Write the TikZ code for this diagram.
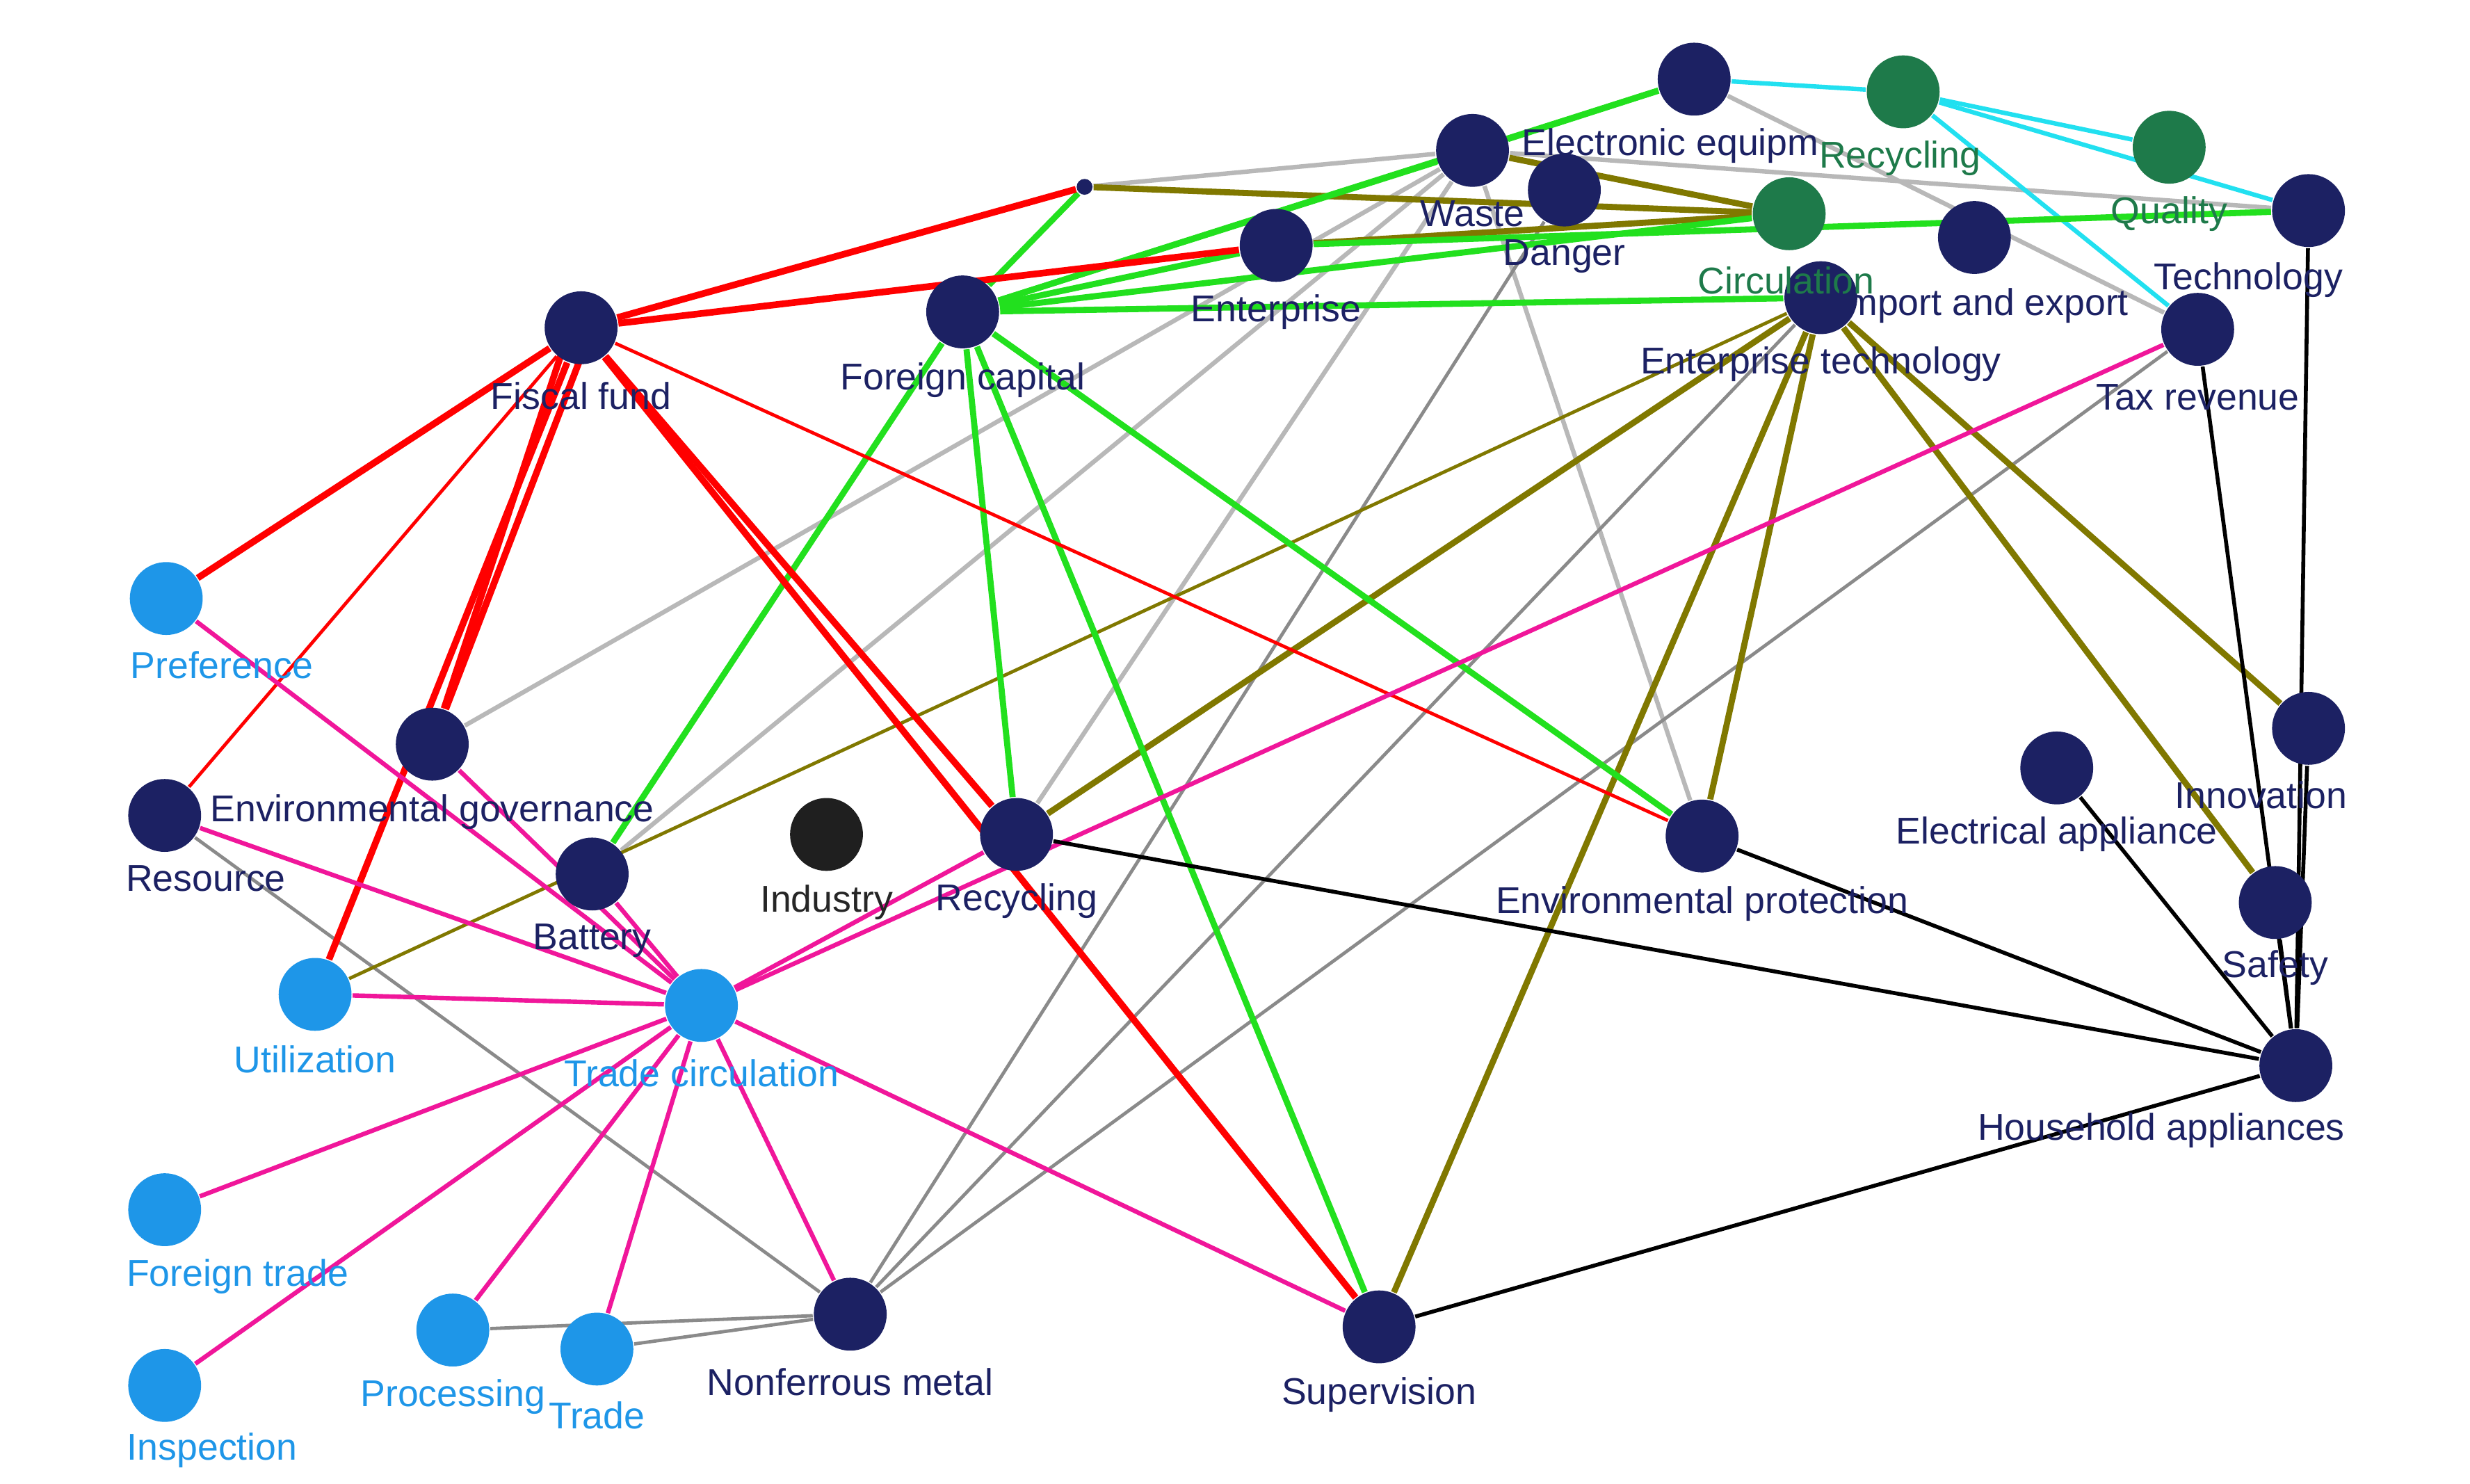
\documentclass[tikz,border=0pt]{standalone}
\usepackage{fontspec}
\setmainfont{Liberation Sans}
\usetikzlibrary{backgrounds}
\definecolor{nv}{HTML}{1C2163}
\definecolor{lb}{HTML}{1E96E8}
\definecolor{gn}{HTML}{1E7A4A}
\definecolor{bg}{HTML}{22E01E}
\definecolor{ol}{HTML}{807800}
\definecolor{pk}{HTML}{F0169A}
\definecolor{cy}{HTML}{22E0F0}
\definecolor{gy}{HTML}{B8B8B8}
\definecolor{dg}{HTML}{8A8A8A}
\begin{document}
\begin{tikzpicture}[x=0.01cm,y=-0.01cm,
 n/.style={circle,fill=nv,minimum size=0.46cm,inner sep=0pt},
 l/.style={circle,fill=lb,minimum size=0.46cm,inner sep=0pt},
 g/.style={circle,fill=gn,minimum size=0.46cm,inner sep=0pt},
 t/.style={font=\fontsize{6.7}{8}\selectfont,inner sep=0.5pt,text=nv},
 tl/.style={t,text=lb},
 tg/.style={t,text=gn},
 R/.style={red,line width=1.2pt}, r/.style={red,line width=0.6pt},
 G/.style={bg,line width=1.1pt}, O/.style={ol,line width=1.1pt}, o/.style={ol,line width=0.6pt},
 P/.style={pk,line width=0.8pt}, C/.style={cy,line width=0.8pt},
 Y/.style={gy,line width=0.8pt}, D/.style={dg,line width=0.6pt}, K/.style={black,line width=0.7pt}]
\useasboundingbox (0,0) rectangle (1560,937);
\node[n] (top) at (1070,50) {};
\node[g] (rg) at (1202,58) {};
\node[g] (g2) at (1370,93) {};
\node[n] (tech) at (1458,133) {};
\node[n] (waste) at (930,95) {};
\node[n] (danger) at (988,120) {};
\node[g] (circ) at (1130,135) {};
\node[n] (imp) at (1247,150) {};
\node[n] (etech) at (1150,188) {};
\node[n] (tax) at (1388,208) {};
\node[n] (ent) at (806,155) {};
\node[n] (fc) at (608,197) {};
\node[n] (ff) at (367,207) {};
\node[circle,fill=nv,minimum size=0.1cm,inner sep=0pt] (dot) at (685,118) {};
\node[l] (pref) at (105,378) {};
\node[n] (eg) at (273,470) {};
\node[n] (res) at (104,515) {};
\node[circle,fill=black!88,minimum size=0.46cm,inner sep=0pt] (ind) at (522,527) {};
\node[n] (rec) at (642,527) {};
\node[n] (bat) at (374,552) {};
\node[l] (util) at (199,628) {};
\node[l] (tc) at (443,635) {};
\node[n] (ep) at (1075,528) {};
\node[n] (ea) at (1299,485) {};
\node[n] (inn) at (1458,460) {};
\node[n] (saf) at (1437,570) {};
\node[n] (ha) at (1450,673) {};
\node[l] (ft) at (104,764) {};
\node[l] (proc) at (286,840) {};
\node[l] (trd) at (377,852) {};
\node[n] (nm) at (537,830) {};
\node[n] (sup) at (871,838) {};
\node[l] (insp) at (104,875) {};
\begin{scope}[on background layer]
\draw[Y] (dot)--(waste); \draw[Y] (waste)--(eg); \draw[Y] (waste)--(bat); \draw[Y] (waste)--(rec);
\draw[Y] (waste)--(ep); \draw[Y] (waste)--(tech); \draw[Y] (top)--(tax);
\draw[D] (danger)--(nm); \draw[D] (res)--(nm); \draw[D] (proc)--(nm); \draw[D] (trd)--(nm);
\draw[D] (nm)--(tax); \draw[D] (nm)--(etech);
\draw[C] (top)--(rg); \draw[C] (rg)--(tech); \draw[C] (rg)--(g2); \draw[C] (rg)--(tax);
\draw[O] (dot)--(circ); \draw[o] (ent)--(tech); \draw[O] (etech)--(rec); \draw[o] (etech)--(util);
\draw[O] (etech)--(ep); \draw[O] (etech)--(sup); \draw[O] (etech)--(saf); \draw[O] (etech)--(inn);
\draw[O] (waste)--(circ); \draw[O] (ent)--(circ);
\draw[G] (fc)--(dot); \draw[G] (fc)--(waste); \draw[G] (fc)--(top); \draw[G] (fc)--(ent);
\draw[G] (fc)--(etech); \draw[G] (fc)--(circ); \draw[G] (fc)--(rec); \draw[G] (fc)--(sup);
\draw[G] (fc)--(ep); \draw[G] (fc)--(bat); \draw[G] (ent)--(tech); \draw[G] (top)--(waste);
\draw[R] (ff)--(dot); \draw[R] (ff)--(ent); \draw[R] (ff)--(pref); \draw[r] (ff)--(res);
\draw[R] ([xshift=-2pt]ff.center)--(eg); \draw[R] ([xshift=2pt]ff.center)--(eg); \draw[R] (ff)--(util);
\draw[R] (ff)--(rec); \draw[R] (ff)--(sup); \draw[r] (ff)--(ep);
\draw[P] (tax)--(tc); \draw[P] (tc)--(pref); \draw[P] (tc)--(res); \draw[P] (tc)--(eg);
\draw[P] (tc)--(bat); \draw[P] (tc)--(util); \draw[P] (tc)--(ft); \draw[P] (tc)--(insp);
\draw[P] (tc)--(proc); \draw[P] (tc)--(trd); \draw[P] (tc)--(nm); \draw[P] (tc)--(sup); \draw[P] (tc)--(rec);
\draw[K] (rec)--(ha); \draw[K] (ep)--(ha); \draw[K] (sup)--(ha); \draw[K] (ea)--(ha);
\draw[K] (inn)--(ha); \draw[K] (saf)--(ha); \draw[K] (tax)--(ha); \draw[K] (tech)--(ha);
\end{scope}
\node[t] (lee) at (1055,92) {Electronic equipm};
\node[tg] (lrg) at (1200,100) {Recycling};
\node[tg] (lq) at (1370,135) {Quality};
\node[t] (ltech) at (1420,177) {Technology};
\node[t] (lw) at (930,135) {Waste};
\node[t] (ld) at (988,162) {Danger};
\node[tg] (lc) at (1128,177) {Circulation};
\node[t] (li) at (1252,193) {Import and export};
\node[t] (let) at (1150,230) {Enterprise technology};
\node[t] (ltax) at (1388,251) {Tax revenue};
\node[t] (lent) at (806,197) {Enterprise};
\node[t] (lfc) at (608,240) {Foreign capital};
\node[t] (lff) at (367,250) {Fiscal fund};
\node[tl] (lpref) at (140,420) {Preference};
\node[t] (leg) at (273,513) {Environmental governance};
\node[t] (lres) at (130,555) {Resource};
\node[t,text=black!85] (lind) at (522,570) {Industry};
\node[t] (lrec) at (642,569) {Recycling};
\node[t] (lbat) at (374,594) {Battery};
\node[tl] (lutil) at (199,669) {Utilization};
\node[tl] (ltc) at (443,678) {Trade circulation};
\node[t] (lep) at (1075,571) {Environmental protection};
\node[t] (lea) at (1299,527) {Electrical appliance};
\node[t] (linn) at (1428,502) {Innovation};
\node[t] (lsaf) at (1437,611) {Safety};
\node[t] (lha) at (1365,714) {Household appliances};
\node[tl] (lft) at (150,806) {Foreign trade};
\node[tl] (lproc) at (286,882) {Processing};
\node[tl] (ltrd) at (377,894) {Trade};
\node[t] (lnm) at (537,873) {Nonferrous metal};
\node[t] (lsup) at (871,881) {Supervision};
\node[tl] (linsp) at (134,916) {Inspection};
\end{tikzpicture}
\end{document}
